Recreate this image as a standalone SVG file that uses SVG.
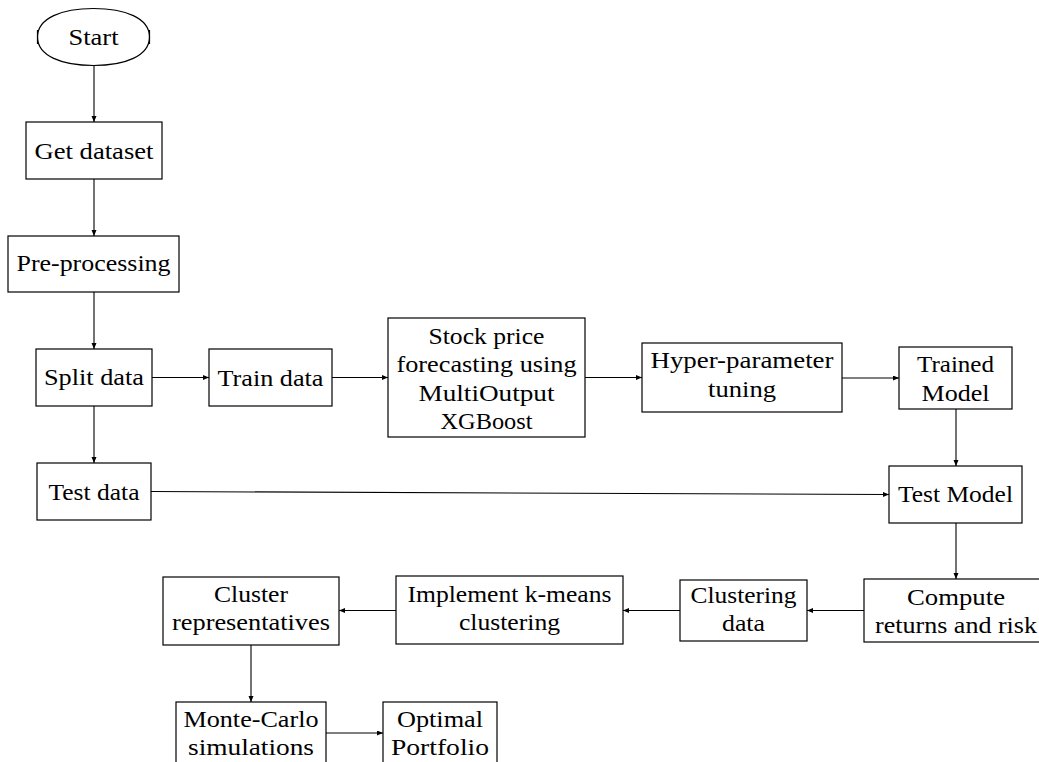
<svg xmlns="http://www.w3.org/2000/svg" width="1039" height="762" viewBox="0 0 1039 762">
<style>
.n{fill:#fff;stroke:#000;stroke-width:1.2}
.t{font-family:'Liberation Serif','DejaVu Serif',serif;font-size:24px;fill:#000;text-anchor:middle}
.c{fill:none;stroke:#000;stroke-width:1.1;marker-end:url(#ah)}
</style>
<defs>
<marker id="ah" markerUnits="userSpaceOnUse" markerWidth="7" markerHeight="6" refX="6" refY="2.5" orient="auto">
<path d="M0,0 L6,2.5 L0,5 Z" fill="#000"/>
</marker>
</defs>
<rect width="1039" height="762" fill="#fff"/>
<g id="connectors">
<line class="c" x1="94" y1="65.5" x2="94" y2="122"/>
<line class="c" x1="94" y1="179" x2="94" y2="236"/>
<line class="c" x1="94" y1="292" x2="94" y2="349"/>
<line class="c" x1="94" y1="406" x2="94" y2="463"/>
<line class="c" x1="152" y1="377.5" x2="209" y2="377.5"/>
<line class="c" x1="332" y1="377.5" x2="388" y2="377.5"/>
<line class="c" x1="585" y1="377.5" x2="642" y2="377.5"/>
<line class="c" x1="842" y1="378" x2="899" y2="378"/>
<line class="c" x1="956" y1="409" x2="956" y2="466"/>
<line class="c" x1="151" y1="491.5" x2="889" y2="494.5"/>
<line class="c" x1="956" y1="523" x2="956" y2="579"/>
<line class="c" x1="864" y1="610.5" x2="807" y2="610.5"/>
<line class="c" x1="680" y1="610.5" x2="623" y2="610.5"/>
<line class="c" x1="396" y1="610.5" x2="339" y2="610.5"/>
<line class="c" x1="251" y1="645" x2="251" y2="702"/>
<line class="c" x1="326" y1="733" x2="383" y2="733"/>
</g>
<g id="start">
<path class="n" d="M37.5,37 C37.5,18 62,8.5 93.5,8.5 C125,8.5 149.5,18 149.5,37 C149.5,56 125,65.5 93.5,65.5 C62,65.5 37.5,56 37.5,37 Z"/>
<line x1="37.5" y1="30" x2="37.5" y2="44" stroke="#000" stroke-width="1.2"/>
<line x1="149.5" y1="30" x2="149.5" y2="44" stroke="#000" stroke-width="1.2"/>
<text class="t" x="93.5" y="45" textLength="50" lengthAdjust="spacingAndGlyphs">Start</text>
</g>
<g id="get-dataset">
<rect class="n" x="26" y="122" width="136" height="57"/>
<text class="t" x="94" y="159" textLength="119" lengthAdjust="spacingAndGlyphs">Get dataset</text>
</g>
<g id="pre-processing">
<rect class="n" x="8" y="236" width="171" height="56"/>
<text class="t" x="93.5" y="271" textLength="154" lengthAdjust="spacingAndGlyphs">Pre-processing</text>
</g>
<g id="split-data">
<rect class="n" x="36" y="349" width="116" height="57"/>
<text class="t" x="94" y="385" textLength="100" lengthAdjust="spacingAndGlyphs">Split data</text>
</g>
<g id="train-data">
<rect class="n" x="209" y="349" width="123" height="57"/>
<text class="t" x="270.5" y="386" textLength="106" lengthAdjust="spacingAndGlyphs">Train data</text>
</g>
<g id="forecasting">
<rect class="n" x="388" y="318" width="197" height="119"/>
<text class="t" x="486.5" y="343.5" textLength="116" lengthAdjust="spacingAndGlyphs">Stock price</text>
<text class="t" x="486.5" y="372" textLength="180" lengthAdjust="spacingAndGlyphs">forecasting using</text>
<text class="t" x="486.5" y="400.5" textLength="136" lengthAdjust="spacingAndGlyphs">MultiOutput</text>
<text class="t" x="486.5" y="429" textLength="92" lengthAdjust="spacingAndGlyphs">XGBoost</text>
</g>
<g id="hyper-parameter">
<rect class="n" x="642" y="343" width="200" height="69"/>
<text class="t" x="742" y="368" textLength="183" lengthAdjust="spacingAndGlyphs">Hyper-parameter</text>
<text class="t" x="742" y="397" textLength="68" lengthAdjust="spacingAndGlyphs">tuning</text>
</g>
<g id="trained-model">
<rect class="n" x="899" y="347" width="113" height="62"/>
<text class="t" x="955.5" y="372" textLength="77" lengthAdjust="spacingAndGlyphs">Trained</text>
<text class="t" x="955.5" y="401" textLength="68" lengthAdjust="spacingAndGlyphs">Model</text>
</g>
<g id="test-data">
<rect class="n" x="37" y="463" width="114" height="57"/>
<text class="t" x="94" y="500" textLength="91" lengthAdjust="spacingAndGlyphs">Test data</text>
</g>
<g id="test-model">
<rect class="n" x="889" y="466" width="133" height="57"/>
<text class="t" x="955.5" y="502" textLength="115" lengthAdjust="spacingAndGlyphs">Test Model</text>
</g>
<g id="compute">
<rect class="n" x="864" y="579" width="184" height="63"/>
<text class="t" x="956" y="605" textLength="98" lengthAdjust="spacingAndGlyphs">Compute</text>
<text class="t" x="956" y="633" textLength="162" lengthAdjust="spacingAndGlyphs">returns and risk</text>
</g>
<g id="clustering-data">
<rect class="n" x="680" y="580" width="127" height="61"/>
<text class="t" x="743.5" y="603" textLength="106" lengthAdjust="spacingAndGlyphs">Clustering</text>
<text class="t" x="743.5" y="631" textLength="43" lengthAdjust="spacingAndGlyphs">data</text>
</g>
<g id="kmeans">
<rect class="n" x="396" y="576" width="227" height="68"/>
<text class="t" x="509.5" y="602" textLength="204" lengthAdjust="spacingAndGlyphs">Implement k-means</text>
<text class="t" x="509.5" y="630" textLength="101" lengthAdjust="spacingAndGlyphs">clustering</text>
</g>
<g id="cluster-representatives">
<rect class="n" x="163" y="577" width="176" height="68"/>
<text class="t" x="251" y="602" textLength="74" lengthAdjust="spacingAndGlyphs">Cluster</text>
<text class="t" x="251" y="630" textLength="158" lengthAdjust="spacingAndGlyphs">representatives</text>
</g>
<g id="monte-carlo">
<rect class="n" x="176" y="702" width="150" height="70"/>
<text class="t" x="251" y="727" textLength="135" lengthAdjust="spacingAndGlyphs">Monte-Carlo</text>
<text class="t" x="251" y="755" textLength="126" lengthAdjust="spacingAndGlyphs">simulations</text>
</g>
<g id="optimal-portfolio">
<rect class="n" x="383" y="702" width="114" height="70"/>
<text class="t" x="440" y="727" textLength="86" lengthAdjust="spacingAndGlyphs">Optimal</text>
<text class="t" x="440" y="755" textLength="98" lengthAdjust="spacingAndGlyphs">Portfolio</text>
</g>
</svg>
